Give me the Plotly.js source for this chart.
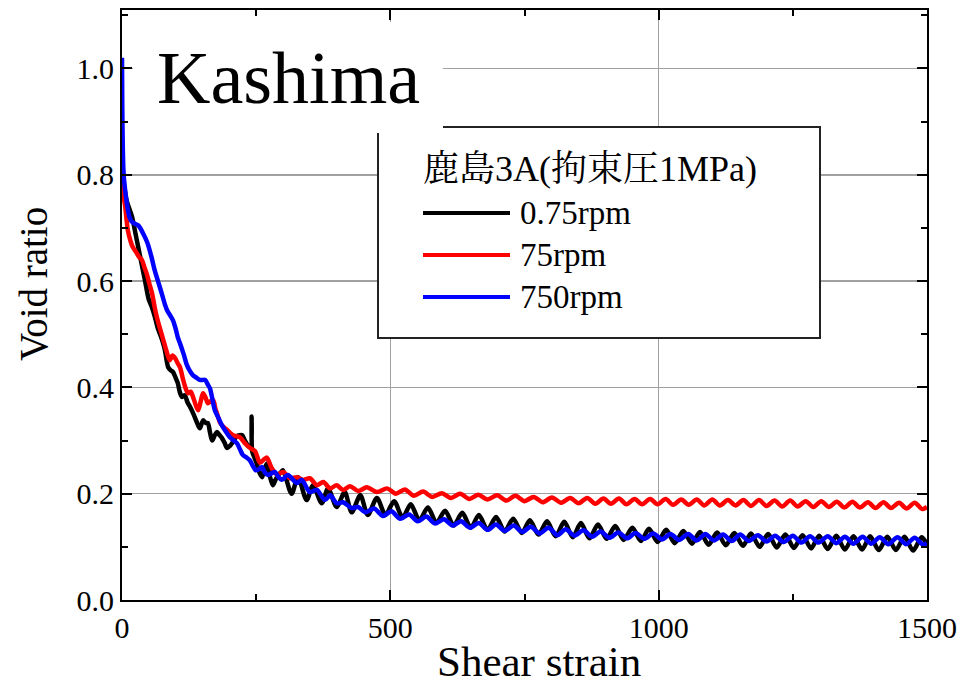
<!DOCTYPE html>
<html>
<head>
<meta charset="utf-8">
<script src="https://cdn.plot.ly/plotly-3.0.1.min.js"></script>
<style>html,body{margin:0;padding:0;background:#fff;}#chart{width:979px;height:684px;}</style>
</head>
<body>
<div id="chart"></div>
<script>
// ---- data ----
const seriesNames = ["0.75rpm", "75rpm", "750rpm"];
const legendTitle = "鹿島3A(拘束圧1MPa)";
const panelLabel = "Kashima";
const xTitle = "Shear strain";
const yTitle = "Void ratio";
const xTickVals = [0, 500, 1000, 1500];

const blackX = [0,1,4,9,14,19,25,30,37,43,50,56,62,67,71,76,80,86,91,95,100,104,108,112,117,122,127,133,140,145,151,156,160,164,168,173,177,182,186,191,196,201,205,210,214,219,224,229,235,240,241.5,242.5,246,251,256,261,265,270,275,281,286,291,296,300,316,328,344,356,372,384,400,415,428,444,458,475,491,507,523,538,554,570,586,602,618,634,650,665,681,697,713,729,745,760,776,792,808,824,840,855,871,887,903,919,935,951,967,982,998,1014,1030,1046,1062,1077,1093,1109,1125,1141,1157,1172,1188,1204,1220,1236,1252,1268,1284,1299,1315,1331,1347,1363,1379,1394,1410,1426,1442,1458,1474,1490,1500];
const blackY = [0.86,0.82,0.78,0.75,0.735,0.72,0.69,0.665,0.63,0.60,0.565,0.55,0.53,0.51,0.50,0.485,0.47,0.438,0.432,0.429,0.418,0.408,0.39,0.382,0.385,0.372,0.363,0.35,0.333,0.323,0.338,0.333,0.333,0.315,0.30,0.31,0.316,0.31,0.305,0.296,0.286,0.29,0.295,0.303,0.308,0.31,0.31,0.30,0.29,0.287,0.345,0.28,0.27,0.257,0.24,0.231,0.245,0.257,0.235,0.216,0.226,0.235,0.24,0.244,0.200,0.231,0.188,0.216,0.182,0.210,0.175,0.203,0.165,0.197,0.160,0.192,0.160,0.186,0.155,0.180,0.150,0.174,0.145,0.168,0.140,0.164,0.136,0.160,0.132,0.156,0.129,0.153,0.126,0.150,0.123,0.148,0.120,0.147,0.118,0.145,0.116,0.142,0.115,0.139,0.113,0.136,0.111,0.134,0.109,0.132,0.107,0.130,0.106,0.128,0.104,0.127,0.103,0.126,0.102,0.125,0.100,0.124,0.099,0.123,0.098,0.122,0.097,0.121,0.096,0.121,0.095,0.120,0.095,0.120,0.094,0.119,0.094,0.119,0.093,0.118,0.105];

const redX = [0,3,6,11,16,20,26,32,37,42,46,51,56,61,65,71,77,83,89,94,99,104,108,114,118,123,128,133,138,142,147,151,156,160,165,170,174,177,183,190,196,202,207,214,220,225,229,240,248,257,265,270,279,289,300,313,326,337,350,363,375,388,400,412,425,440,456,475,494,510,527,544,561,578,596,613,630,647,664,681,699,716,733,750,767,784,801,818,835,851,867,882,897,911,926,940,955,969,984,998,1013,1027,1042,1056,1071,1085,1100,1114,1129,1143,1158,1172,1187,1201,1216,1230,1245,1259,1274,1288,1303,1317,1332,1346,1361,1375,1390,1404,1419,1433,1448,1462,1477,1491,1500];
const redY = [0.795,0.76,0.74,0.695,0.675,0.664,0.655,0.645,0.64,0.625,0.614,0.595,0.577,0.55,0.532,0.51,0.489,0.468,0.451,0.46,0.455,0.445,0.438,0.414,0.40,0.389,0.392,0.38,0.365,0.357,0.375,0.389,0.38,0.37,0.374,0.376,0.36,0.351,0.333,0.325,0.32,0.314,0.31,0.308,0.306,0.30,0.295,0.285,0.28,0.258,0.265,0.268,0.248,0.236,0.241,0.229,0.231,0.226,0.229,0.216,0.222,0.21,0.216,0.207,0.214,0.205,0.212,0.203,0.21,0.2,0.208,0.196,0.204,0.194,0.201,0.192,0.200,0.190,0.198,0.189,0.197,0.187,0.196,0.186,0.194,0.184,0.193,0.183,0.192,0.182,0.192,0.181,0.191,0.181,0.191,0.180,0.190,0.180,0.190,0.180,0.190,0.179,0.189,0.179,0.189,0.178,0.189,0.178,0.188,0.178,0.188,0.177,0.188,0.177,0.187,0.176,0.187,0.176,0.186,0.175,0.186,0.175,0.185,0.174,0.185,0.174,0.184,0.173,0.184,0.173,0.183,0.172,0.183,0.171,0.175];

const blueX = [0,0.5,1.5,3,6,10,14,18,24,30,35,39,44,48,55,61,67,74,80,84,90,95,100,104,108,115,121,127,132,139,145,150,155,160,164,168,173,180,186,194,201,208,214,220,225,232,238,244,249,255,261,266,272,278,285,291,298,309,326,335,350,363,378,388,400,412,428,440,453,470,486,502,518,535,551,567,583,600,616,632,648,665,681,697,713,730,746,762,778,795,811,827,843,860,876,892,908,925,941,957,973,990,1006,1022,1038,1055,1071,1087,1103,1120,1136,1152,1168,1185,1201,1217,1233,1250,1266,1282,1298,1315,1331,1347,1363,1380,1396,1412,1428,1445,1461,1477,1493,1500];
const blueY = [1.02,0.93,0.85,0.80,0.77,0.74,0.72,0.712,0.708,0.705,0.698,0.69,0.68,0.67,0.645,0.62,0.60,0.577,0.556,0.545,0.535,0.526,0.51,0.494,0.483,0.462,0.442,0.43,0.423,0.418,0.414,0.414,0.414,0.405,0.398,0.38,0.357,0.342,0.329,0.316,0.306,0.30,0.295,0.283,0.273,0.268,0.263,0.252,0.244,0.246,0.25,0.24,0.235,0.238,0.241,0.232,0.226,0.235,0.22,0.226,0.203,0.207,0.188,0.197,0.182,0.184,0.173,0.175,0.165,0.172,0.158,0.167,0.153,0.161,0.148,0.157,0.144,0.152,0.140,0.148,0.136,0.145,0.132,0.142,0.130,0.140,0.128,0.138,0.125,0.136,0.122,0.133,0.121,0.131,0.119,0.129,0.117,0.127,0.116,0.126,0.115,0.125,0.114,0.124,0.113,0.124,0.112,0.124,0.112,0.123,0.111,0.123,0.111,0.122,0.110,0.121,0.109,0.121,0.108,0.120,0.108,0.120,0.107,0.119,0.106,0.119,0.106,0.118,0.105,0.118,0.105,0.117,0.104,0.107];

const seriesColors = ["#000000", "#ff0000", "#0000ff"];

// sanity check
[[blackX,blackY,'black'],[redX,redY,'red'],[blueX,blueY,'blue']].forEach(function(s){
  if (s[0].length !== s[1].length) throw new Error(s[2] + ' length mismatch ' + s[0].length + ' vs ' + s[1].length);
});

const serif = "Liberation Serif, Times New Roman, serif";
const cjk = "Liberation Serif, Noto Serif CJK JP, Noto Sans CJK JP, serif";

const xs = [blackX, redX, blueX];
const ys = [blackY, redY, blueY];
const traces = seriesNames.map(function(n, i){
  return {
    type: 'scatter', mode: 'lines', name: n,
    x: xs[i], y: ys[i],
    line: {color: seriesColors[i], width: 4.5, shape: 'spline', smoothing: 0.8},
    showlegend: false, hoverinfo: 'skip'
  };
});

// plot area in px: x 122..927, y 10..600
function px2paperX(p){ return (p - 122) / 805; }
function px2paperY(p){ return (600 - p) / 590; }

const legendRows = [213, 255, 297];
const shapes = [
  // legend frame
  {type:'rect', xref:'paper', yref:'paper', x0:px2paperX(378), x1:px2paperX(820), y0:px2paperY(338), y1:px2paperY(127),
   line:{color:'#222', width:2}, fillcolor:'#ffffff', layer:'above'},
  // white box behind panel label
  {type:'rect', xref:'paper', yref:'paper', x0:px2paperX(133), x1:px2paperX(443), y0:px2paperY(133), y1:px2paperY(22),
   line:{width:0}, fillcolor:'#ffffff', layer:'above'}
];
const annotations = [
  {xref:'paper', yref:'paper', x:px2paperX(288), y:px2paperY(78), xanchor:'center', yanchor:'middle', showarrow:false,
   text: panelLabel, font:{family:serif, size:74, color:'#000'}},
  {xref:'paper', yref:'paper', x:px2paperX(421), y:px2paperY(169), xanchor:'left', yanchor:'middle', showarrow:false,
   text: legendTitle, font:{family:cjk, size:36, color:'#000'}},
  // axis titles
  {xref:'paper', yref:'paper', x:px2paperX(539), y:px2paperY(662), xanchor:'center', yanchor:'middle', showarrow:false,
   text: xTitle, font:{family:serif, size:43, color:'#000'}},
  {xref:'paper', yref:'paper', x:px2paperX(33), y:px2paperY(284), xanchor:'center', yanchor:'middle', showarrow:false,
   textangle:-90, text: yTitle, font:{family:serif, size:39, color:'#000'}}
];
seriesNames.forEach(function(n, i){
  shapes.push({type:'line', xref:'paper', yref:'paper', x0:px2paperX(423), x1:px2paperX(510),
    y0:px2paperY(legendRows[i]), y1:px2paperY(legendRows[i]), line:{color:seriesColors[i], width:4}, layer:'above'});
  annotations.push({xref:'paper', yref:'paper', x:px2paperX(518), y:px2paperY(legendRows[i]), xanchor:'left', yanchor:'middle',
    showarrow:false, text:n, font:{family:serif, size:33, color:'#000'}});
});

const layout = {
  width: 979, height: 684,
  margin: {l:122, r:52, t:10, b:84, pad:0},
  paper_bgcolor:'#fff', plot_bgcolor:'#fff',
  showlegend:false,
  font:{family:serif, color:'#000'},
  xaxis: {
    range:[0,1500], tickvals:xTickVals, ticktext:xTickVals.map(String),
    ticks:'inside', ticklen:10, tickwidth:2, tickcolor:'#000',
    showline:true, linecolor:'#000', linewidth:2, mirror:'allticks',
    showgrid:true, gridcolor:'#a0a0a0', gridwidth:1.5, zeroline:false,
    minor:{ticks:'inside', ticklen:6, tickwidth:2, tickcolor:'#000', dtick:250, tick0:0, showgrid:false},
    tickfont:{family:serif, size:30, color:'#000'},
    fixedrange:true
  },
  yaxis: {
    range:[0,1.11], dtick:0.2, tick0:0, tickformat:'.1f',
    ticks:'inside', ticklen:10, tickwidth:2, tickcolor:'#000',
    showline:true, linecolor:'#000', linewidth:2, mirror:'allticks',
    showgrid:true, gridcolor:'#a0a0a0', gridwidth:1.5, zeroline:false,
    minor:{ticks:'inside', ticklen:6, tickwidth:2, tickcolor:'#000', dtick:0.1, tick0:0, showgrid:false},
    tickfont:{family:serif, size:30, color:'#000'},
    fixedrange:true
  },
  shapes: shapes,
  annotations: annotations
};

Plotly.newPlot('chart', traces, layout, {staticPlot:true, displayModeBar:false});
</script>
</body>
</html>
